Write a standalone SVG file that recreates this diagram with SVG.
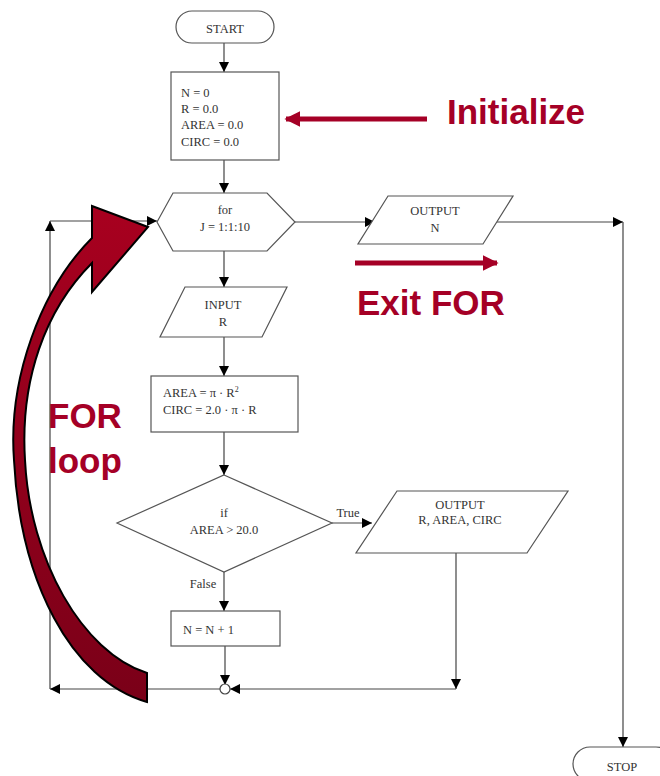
<svg xmlns="http://www.w3.org/2000/svg" width="660" height="776" viewBox="0 0 660 776">
  <defs>
    <marker id="tip" viewBox="0 0 10 10" refX="10" refY="5" markerWidth="10" markerHeight="10" markerUnits="userSpaceOnUse" orient="auto">
      <path d="M0,0 L10,5 L0,10 Z" fill="#000"/>
    </marker>
    <marker id="redtip" viewBox="0 0 10 10" refX="9" refY="5" markerWidth="16" markerHeight="16" markerUnits="userSpaceOnUse" orient="auto">
      <path d="M0,0 L10,5 L0,10 Z" fill="#a50026"/>
    </marker>
    <linearGradient id="loopfill" x1="0" y1="0" x2="0" y2="1">
      <stop offset="0" stop-color="#a8001f"/>
      <stop offset="1" stop-color="#7a0018"/>
    </linearGradient>
    <style>
      .shape { fill: #fff; stroke: #555; stroke-width: 1.2; }
      .line { fill: none; stroke: #555; stroke-width: 1.2; }
      .arr { fill: none; stroke: #444; stroke-width: 1.2; marker-end: url(#tip); }
      .t { font-family: "Liberation Serif", "Times New Roman", serif; font-size: 12.5px; fill: #333; }
      .c { text-anchor: middle; }
      .note { font-family: "Liberation Sans", Arial, sans-serif; font-weight: bold; font-size: 35px; fill: #a50026; }
      .redline { stroke: #a50026; stroke-width: 5; fill: none; marker-end: url(#redtip); }
    </style>
  </defs>

  <g id="connectors">
    <line class="arr" x1="224" y1="43" x2="224" y2="72"/>
    <line class="arr" x1="224" y1="160" x2="224" y2="193"/>
    <line class="arr" x1="295" y1="222" x2="375" y2="222"/>
    <line class="arr" x1="497" y1="222" x2="623" y2="222"/>
    <line class="arr" x1="623" y1="222" x2="623" y2="747"/>
    <line class="arr" x1="224" y1="251" x2="224" y2="287"/>
    <line class="arr" x1="224" y1="337" x2="224" y2="376"/>
    <line class="arr" x1="224" y1="432" x2="224" y2="475"/>
    <line class="arr" x1="332" y1="523" x2="372" y2="523"/>
    <line class="arr" x1="224" y1="572" x2="224" y2="611"/>
    <line class="arr" x1="225" y1="646" x2="225" y2="685"/>
    <line class="arr" x1="456" y1="553" x2="456" y2="689"/>
    <line class="arr" x1="456" y1="689" x2="230" y2="689"/>
    <line class="arr" x1="220" y1="689" x2="50" y2="689"/>
    <line class="arr" x1="50" y1="689" x2="50" y2="221"/>
    <line class="arr" x1="50" y1="221" x2="157" y2="221"/>
    <circle cx="225" cy="689" r="5" fill="#fff" stroke="#444" stroke-width="1.2"/>
    <text class="t" x="348" y="517" text-anchor="middle">True</text>
    <text class="t" x="203" y="588" text-anchor="middle">False</text>
  </g>

  <g id="start">
    <rect class="shape" x="176" y="11" width="98" height="32" rx="16"/>
    <text class="t c" x="225" y="33">START</text>
  </g>

  <g id="init">
    <rect class="shape" x="171" y="72" width="108" height="88"/>
    <text class="t" x="181" y="97">N = 0</text>
    <text class="t" x="181" y="113">R = 0.0</text>
    <text class="t" x="181" y="129">AREA = 0.0</text>
    <text class="t" x="181" y="146">CIRC = 0.0</text>
  </g>

  <g id="for">
    <path class="shape" d="M157,222 L173,193 L267,193 L295,222 L267,251 L173,251 Z"/>
    <text class="t c" x="225" y="214">for</text>
    <text class="t c" x="225" y="231">J = 1:1:10</text>
  </g>

  <g id="output-n">
    <path class="shape" d="M388,196 L513,196 L483,244 L358,244 Z"/>
    <text class="t c" x="435" y="215">OUTPUT</text>
    <text class="t c" x="435" y="232">N</text>
  </g>

  <g id="input-r">
    <path class="shape" d="M185,287 L287,287 L262,337 L160,337 Z"/>
    <text class="t c" x="223" y="309">INPUT</text>
    <text class="t c" x="223" y="326">R</text>
  </g>

  <g id="compute">
    <rect class="shape" x="151" y="376" width="147" height="56"/>
    <text class="t" x="163" y="397">AREA = π · R<tspan font-size="8" dy="-5">2</tspan></text>
    <text class="t" x="163" y="414">CIRC = 2.0 · π · R</text>
  </g>

  <g id="decision">
    <path class="shape" d="M224,475 L332,523 L224,572 L117,523 Z"/>
    <text class="t c" x="224" y="517">if</text>
    <text class="t c" x="224" y="534">AREA &gt; 20.0</text>
  </g>

  <g id="output-results">
    <path class="shape" d="M397,491 L568,491 L527,553 L356,553 Z"/>
    <text class="t c" x="460" y="509">OUTPUT</text>
    <text class="t c" x="460" y="524">R, AREA, CIRC</text>
  </g>

  <g id="increment">
    <rect class="shape" x="171" y="611" width="109" height="35"/>
    <text class="t" x="183" y="634">N = N + 1</text>
  </g>

  <g id="stop">
    <rect class="shape" x="573" y="747" width="100" height="34" rx="17"/>
    <text class="t c" x="622" y="771">STOP</text>
  </g>

  <g id="annotations">
    <line class="redline" x1="427" y1="119" x2="286" y2="119"/>
    <text class="note" x="447" y="124">Initialize</text>
    <line class="redline" x1="355" y1="263" x2="497" y2="263"/>
    <text class="note" x="357" y="315">Exit FOR</text>
    <path d="M92,238 C40,290 8,380 14,460 C20,580 70,680 147,702 L147,673 C82,652 30,560 25,460 C20,380 45,310 92,263 L92,292 L148,227 L92,206 Z" fill="url(#loopfill)" stroke="#000" stroke-width="2" stroke-linejoin="miter"/>
    <text class="note" x="48" y="428" font-size="38">FOR</text>
    <text class="note" x="48" y="473" font-size="38">loop</text>
  </g>
</svg>
